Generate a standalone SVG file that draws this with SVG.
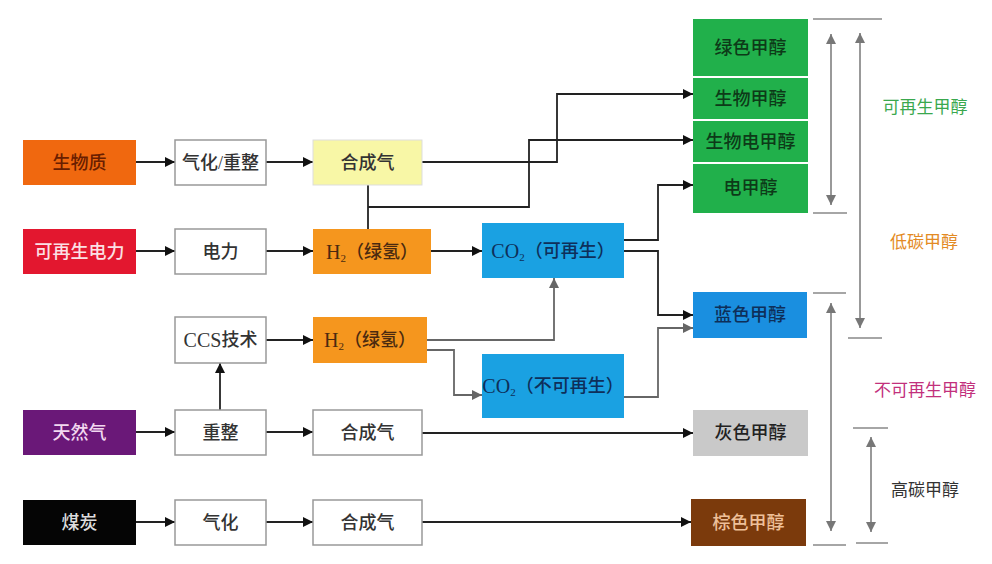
<svg xmlns="http://www.w3.org/2000/svg" width="992" height="564" viewBox="0 0 992 564">
<defs>
<marker id="ah" viewBox="0 0 10 10" refX="10" refY="5" markerWidth="10" markerHeight="10" markerUnits="userSpaceOnUse" orient="auto"><path d="M0,0 L10,5 L0,10 z" fill="#111"/></marker>
<marker id="ahg" viewBox="0 0 10 10" refX="10" refY="5" markerWidth="10" markerHeight="10" markerUnits="userSpaceOnUse" orient="auto"><path d="M0,0 L10,5 L0,10 z" fill="#666"/></marker>
<marker id="ahb" viewBox="0 0 10 10" refX="10" refY="5" markerWidth="10" markerHeight="10" markerUnits="userSpaceOnUse" orient="auto-start-reverse"><path d="M0,0 L10,5 L0,10 z" fill="#777"/></marker>
</defs>
<style>
text{font-family:"Liberation Serif","Noto Sans CJK SC",sans-serif;font-size:18px;font-weight:500;text-anchor:middle;dominant-baseline:central}
.w{fill:#fff;stroke:#999;stroke-width:1.5}
.c{fill:none;stroke:#222;stroke-width:1.8;marker-end:url(#ah)}
.cl{fill:none;stroke:#222;stroke-width:1.8}
.cg{fill:none;stroke:#666;stroke-width:1.8;marker-end:url(#ahg)}
.br{stroke:#888;stroke-width:1.5}
.ba{stroke:#777;stroke-width:1.5;marker-start:url(#ahb);marker-end:url(#ahb)}
.lab{font-size:17px;font-weight:400}
.lt{font-size:20px}
.sb{font-size:11px}
</style>
<rect width="992" height="564" fill="#fff"/>

<g id="connectors">
<path class="c" d="M136,162 H175"/>
<path class="c" d="M266,162 H313"/>
<path class="c" d="M422,162 H557 V94 H693"/>
<path class="cl" d="M368,185 V229"/>
<path class="c" d="M368,207 H529 V140 H693"/>
<path class="c" d="M136,251 H175"/>
<path class="c" d="M266,251 H313"/>
<path class="c" d="M431,251 H482"/>
<path class="c" d="M624,240 H658 V185 H693"/>
<path class="c" d="M624,251 H658 V315 H693"/>
<path class="c" d="M220,410 V363"/>
<path class="c" d="M266,340 H313"/>
<path class="cg" d="M427,340 H554 V278"/>
<path class="cg" d="M427,350 H454 V395 H482"/>
<path class="cg" d="M624,397 H658 V328 H693"/>
<path class="c" d="M136,432 H175"/>
<path class="c" d="M266,432 H313"/>
<path class="c" d="M422,433 H693"/>
<path class="c" d="M136,522 H175"/>
<path class="c" d="M266,522 H313"/>
<path class="c" d="M422,522 H691"/>
</g>

<g id="n-biomass"><rect x="23" y="140" width="113" height="45" fill="#f0680f"/><text x="79.5" y="162.5" fill="#6a1e00">生物质</text></g>
<g id="n-gasref"><rect class="w" x="175" y="140" width="91" height="45"/><text x="220.5" y="162.5" fill="#333">气化/重整</text></g>
<g id="n-syngas1"><rect x="313" y="140" width="109" height="45" fill="#f8f7a6" stroke="#ddd" stroke-width="1"/><text x="367.5" y="162.5" fill="#333">合成气</text></g>

<g id="n-power"><rect x="23" y="229" width="113" height="45" fill="#e3172f"/><text x="79.5" y="251.5" fill="#fbe0e4">可再生电力</text></g>
<g id="n-elec"><rect class="w" x="175" y="229" width="91" height="45"/><text x="220.5" y="251.5" fill="#333">电力</text></g>
<g id="n-h2a"><rect x="313" y="229" width="118" height="45" fill="#f5961e"/><text x="372" y="251.5" fill="#4a2a10"><tspan class="lt">H</tspan><tspan class="sb" dy="6">2</tspan><tspan dy="-6">（绿氢）</tspan></text></g>
<g id="n-co2r"><rect x="482" y="223" width="142" height="55" fill="#1aa1e2"/><text x="553" y="250.5" fill="#0e2f5a"><tspan class="lt">CO</tspan><tspan class="sb" dy="6">2</tspan><tspan dy="-6">（可再生）</tspan></text></g>

<g id="n-ccs"><rect class="w" x="175" y="317" width="91" height="46"/><text x="220.5" y="340" fill="#333"><tspan class="lt">CCS</tspan>技术</text></g>
<g id="n-h2b"><rect x="313" y="317" width="114" height="46" fill="#f5961e"/><text x="370" y="340" fill="#4a2a10"><tspan class="lt">H</tspan><tspan class="sb" dy="6">2</tspan><tspan dy="-6">（绿氢）</tspan></text></g>
<g id="n-co2n"><rect x="482" y="354" width="142" height="64" fill="#1aa1e2"/><text x="553" y="386" fill="#0e2f5a"><tspan class="lt">CO</tspan><tspan class="sb" dy="6">2</tspan><tspan dy="-6">（不可再生）</tspan></text></g>

<g id="n-gas"><rect x="23" y="410" width="113" height="45" fill="#6a1878"/><text x="79.5" y="432.5" fill="#f2d8f0">天然气</text></g>
<g id="n-reform"><rect class="w" x="175" y="410" width="91" height="45"/><text x="220.5" y="432.5" fill="#333">重整</text></g>
<g id="n-syngas2"><rect class="w" x="313" y="410" width="109" height="45"/><text x="367.5" y="432.5" fill="#333">合成气</text></g>

<g id="n-coal"><rect x="23" y="500" width="113" height="45" fill="#050505"/><text x="79.5" y="522.5" fill="#ddd">煤炭</text></g>
<g id="n-gasify"><rect class="w" x="175" y="500" width="91" height="45"/><text x="220.5" y="522.5" fill="#333">气化</text></g>
<g id="n-syngas3"><rect class="w" x="313" y="500" width="109" height="45"/><text x="367.5" y="522.5" fill="#333">合成气</text></g>

<g id="n-green"><rect x="693" y="19" width="115" height="57" fill="#21b04b"/><text x="750.5" y="48" fill="#0d3a18">绿色甲醇</text></g>
<g id="n-bio"><rect x="693" y="78" width="115" height="41" fill="#21b04b"/><text x="750.5" y="99" fill="#0d3a18">生物甲醇</text></g>
<g id="n-bioe"><rect x="693" y="121" width="115" height="41" fill="#21b04b"/><text x="750.5" y="142" fill="#0d3a18">生物电甲醇</text></g>
<g id="n-e"><rect x="693" y="164" width="115" height="49" fill="#21b04b"/><text x="750.5" y="188" fill="#0d3a18">电甲醇</text></g>
<g id="n-blue"><rect x="693" y="292" width="114" height="46" fill="#1a8fe0"/><text x="750" y="315" fill="#0e2f5a">蓝色甲醇</text></g>
<g id="n-grey"><rect x="693" y="410" width="115" height="46" fill="#c9c9c9"/><text x="750.5" y="433" fill="#222">灰色甲醇</text></g>
<g id="n-brown"><rect x="691" y="499" width="115" height="47" fill="#7b3a0c"/><text x="748.5" y="522.5" fill="#eec09a">棕色甲醇</text></g>

<g id="brackets">
<line class="br" x1="813" y1="19" x2="882" y2="19"/>
<line class="br" x1="813" y1="213" x2="847" y2="213"/>
<line class="ba" x1="831" y1="34" x2="831" y2="205"/>
<line class="ba" x1="860" y1="33" x2="860" y2="328"/>
<line class="br" x1="848" y1="338" x2="882" y2="338"/>
<line class="br" x1="813" y1="293" x2="846" y2="293"/>
<line class="ba" x1="831" y1="303" x2="831" y2="531"/>
<line class="br" x1="813" y1="545" x2="846" y2="545"/>
<line class="br" x1="853" y1="428" x2="888" y2="428"/>
<line class="ba" x1="871" y1="437" x2="871" y2="532"/>
<line class="br" x1="856" y1="543" x2="888" y2="543"/>
</g>

<g id="labels">
<text class="lab" x="925" y="107" fill="#3aa84e">可再生甲醇</text>
<text class="lab" x="924" y="242" fill="#e38a24">低碳甲醇</text>
<text class="lab" x="925" y="390" fill="#c2307c">不可再生甲醇</text>
<text class="lab" x="925" y="490" fill="#333">高碳甲醇</text>
</g>
</svg>
